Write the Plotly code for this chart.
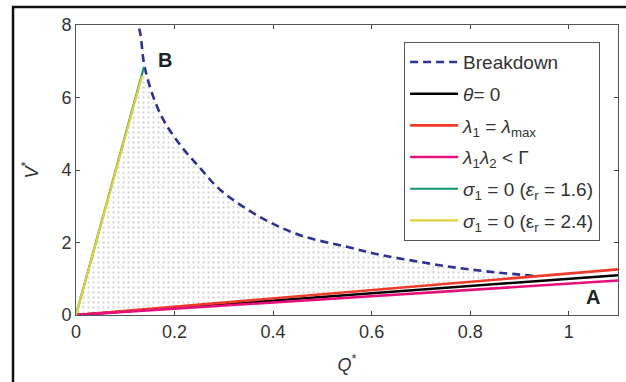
import plotly.graph_objects as go

# Breakdown curve
bd_q = [0.115, 0.13, 0.14, 0.171, 0.211, 0.252, 0.293, 0.374, 0.455, 0.55, 0.618, 0.7, 0.774, 0.85, 0.93]
bd_v = [8.6, 7.8, 6.8, 5.55, 4.7, 4.05, 3.45, 2.7, 2.2, 1.88, 1.66, 1.46, 1.3, 1.18, 1.08]

# Lower lines
line_q = [0, 1.1]
theta_v = [0, 1.1]
lam_v = [0, 1.26]
lamlam_v = [0, 0.95]

# Steep lines to point B
sig16_q = [0, 0.138]
sig16_v = [0, 6.85]
sig24_q = [0, 0.134]
sig24_v = [0, 6.6]

# Shaded (dotted) region
reg_q = [0] + bd_q[2:] + [0]
reg_v = [0] + bd_v[2:] + [0]

x_ticks = [0, 0.2, 0.4, 0.6, 0.8, 1]
y_ticks = [0, 2, 4, 6, 8]

FONT = "Liberation Sans, Arial, sans-serif"

fig = go.Figure()
fig.add_trace(go.Scatter(x=reg_q, y=reg_v, mode="lines", fill="toself", line=dict(width=0),
                         fillcolor="rgba(0,0,0,0)", showlegend=False, hoverinfo="skip",
                         fillpattern=dict(shape=".", size=5, solidity=0.16, fgcolor="#a8a8a8", bgcolor="white")))
fig.add_trace(go.Scatter(x=bd_q, y=bd_v, mode="lines", name="Breakdown", legendgroup="a",
                         line=dict(color="#2e3192", width=2.6, dash="8px,5px", shape="spline")))
fig.add_trace(go.Scatter(x=line_q, y=theta_v, mode="lines", name="<i>θ</i>= 0", legendgroup="b",
                         line=dict(color="black", width=2.5)))
fig.add_trace(go.Scatter(x=line_q, y=lam_v, mode="lines", name="<i>λ</i><sub>1</sub> = <i>λ</i><sub>max</sub>",
                         legendgroup="c", line=dict(color="#ee3a2a", width=2.6)))
fig.add_trace(go.Scatter(x=line_q, y=lamlam_v, mode="lines", name="<i>λ</i><sub>1</sub><i>λ</i><sub>2</sub> < Γ",
                         legendgroup="d", line=dict(color="#e6107a", width=2.6)))
fig.add_trace(go.Scatter(x=sig16_q, y=sig16_v, mode="lines", name="<i>σ</i><sub>1</sub> = 0 (<i>ε</i><sub>r</sub> = 1.6)",
                         legendgroup="e", line=dict(color="#12996a", width=2.2)))
fig.add_trace(go.Scatter(x=sig24_q, y=sig24_v, mode="lines", name="<i>σ</i><sub>1</sub> = 0 (ε<sub>r</sub> = 2.4)",
                         legendgroup="f", line=dict(color="#e0cf3c", width=2.2)))

fig.add_annotation(x=0.18, y=7.04, text="<b>B</b>", showarrow=False, font=dict(size=20, color="#222", family=FONT))
fig.add_annotation(x=1.05, y=0.51, text="<b>A</b>", showarrow=False, font=dict(size=20, color="#222", family=FONT))

# outer frame (left and top visible)
fig.add_shape(type="rect", xref="paper", yref="paper", x0=-0.1162, x1=1.5, y0=-0.6, y1=1.062,
              line=dict(color="#111", width=2.5), layer="below")

fig.update_layout(
    width=626, height=382,
    margin=dict(l=76, r=8, t=25, b=67, autoexpand=False),
    paper_bgcolor="white", plot_bgcolor="white",
    font=dict(family=FONT, size=18, color="#333"),
    showlegend=True,
    legend=dict(x=0.967, y=0.941, xanchor="right", yanchor="top", bgcolor="white",
                bordercolor="#555", borderwidth=1, font=dict(size=19, color="#333", family=FONT),
                tracegroupgap=4, itemwidth=48),
)
fig.update_xaxes(range=[0, 1.1], tickvals=x_ticks, ticktext=[str(t) for t in x_ticks],
                 ticks="inside", ticklen=4, tickcolor="#444", mirror="ticks", showline=True,
                 linecolor="#555", linewidth=1, showgrid=False, zeroline=False, automargin=False,
                 tickfont=dict(size=18),
                 title=dict(text="<i>Q</i><sup>*</sup>", standoff=17, font=dict(size=18)))
fig.update_yaxes(range=[0, 8], tickvals=y_ticks, ticktext=[str(t) for t in y_ticks],
                 ticks="inside", ticklen=4, tickcolor="#444", mirror="ticks", showline=True,
                 linecolor="#555", linewidth=1, showgrid=False, zeroline=False, automargin=False,
                 tickfont=dict(size=18),
                 title=dict(text="<i>V</i><sup>*</sup>", standoff=18, font=dict(size=18)))

fig.write_html("out.html", config={"displayModeBar": False},
               post_script="document.body.style.margin='0';document.body.style.overflow='hidden';")
